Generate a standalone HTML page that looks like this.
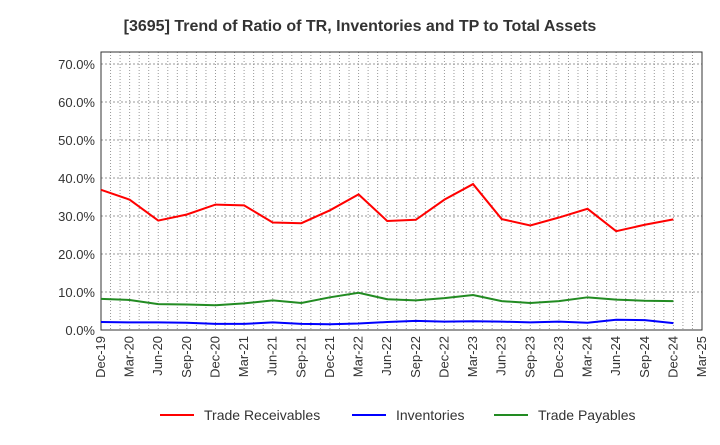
<!DOCTYPE html>
<html><head><meta charset="utf-8"><style>
body{margin:0;background:#fff;font-family:"Liberation Sans",sans-serif}
</style></head><body>
<svg id="c" width="720" height="440" xmlns="http://www.w3.org/2000/svg">
<text x="360" y="31" text-anchor="middle" font-size="16" font-weight="bold" fill="#333">[3695]  Trend of Ratio of TR, Inventories and TP to Total Assets</text>
</svg>
<script>
const categories=["Dec-19","Mar-20","Jun-20","Sep-20","Dec-20","Mar-21","Jun-21","Sep-21","Dec-21","Mar-22","Jun-22","Sep-22","Dec-22","Mar-23","Jun-23","Sep-23","Dec-23","Mar-24","Jun-24","Sep-24","Dec-24","Mar-25"];
const tradeReceivables=[36.9,34.3,28.8,30.4,33.0,32.8,28.3,28.1,31.5,35.7,28.7,29.0,34.3,38.4,29.2,27.5,29.6,31.9,26.0,27.7,29.1];
const inventories=[2.1,2.0,2.0,1.9,1.6,1.6,2.0,1.6,1.5,1.7,2.1,2.4,2.2,2.3,2.2,2.0,2.2,1.9,2.7,2.6,1.8];
const tradePayables=[8.2,7.9,6.8,6.7,6.5,7.0,7.8,7.1,8.6,9.8,8.1,7.8,8.4,9.2,7.6,7.1,7.6,8.6,8.0,7.7,7.6];
const yTicks=[0,10,20,30,40,50,60,70];
const L=101,R=702,T=52,B=330;
const sx=i=>L+i*(R-L)/(categories.length-1);
const sy=v=>B-v*38/10;
const svg=document.getElementById('c');
const NS='http://www.w3.org/2000/svg';
function mk(t,a){const e=document.createElementNS(NS,t);for(const k in a)e.setAttribute(k,a[k]);svg.appendChild(e);return e;}
// monthly vertical grid
for(let m=1;m<63;m++){const x=L+m*(R-L)/63;
const g=mk('line',{x1:x,x2:x,y1:T,y2:B,stroke:'#999','stroke-dasharray':'1,2','stroke-width':1});

}
yTicks.forEach(v=>{const y=sy(v);
const g=mk('line',{x1:L,x2:R,y1:y,y2:y,stroke:'#999','stroke-dasharray':'2,2','stroke-width':1});


const t=mk('text',{x:L-6,y:y+5,'text-anchor':'end','font-size':13,fill:'#333'});t.textContent=v.toFixed(1)+'%';

});
const fr=mk('rect',{x:L,y:T,width:R-L,height:B-T,fill:'none',stroke:'#333','stroke-width':1});


categories.forEach((c,i)=>{const x=sx(i);
const t=mk('text',{transform:`translate(${x+4},${B+6}) rotate(-90)`,'text-anchor':'end','font-size':13,fill:'#333'});t.textContent=c;

});
function series(d,col,name){const p=mk('polyline',{points:d.map((v,i)=>sx(i)+','+sy(v)).join(' '),fill:'none',stroke:col,'stroke-width':2});

}
series(tradeReceivables,'#ff0000','trade-receivables-line');
series(inventories,'#0000ff','inventories-line');
series(tradePayables,'#228b22','trade-payables-line');
[['Trade Receivables','#ff0000',160],['Inventories','#0000ff',352],['Trade Payables','#228b22',494]].forEach(([n,c,x])=>{
const l=mk('line',{x1:x,x2:x+34,y1:415,y2:415,stroke:c,'stroke-width':2});


const t=mk('text',{x:x+44,y:420,'font-size':14,fill:'#333'});t.textContent=n;

});
</script>
</body></html>
